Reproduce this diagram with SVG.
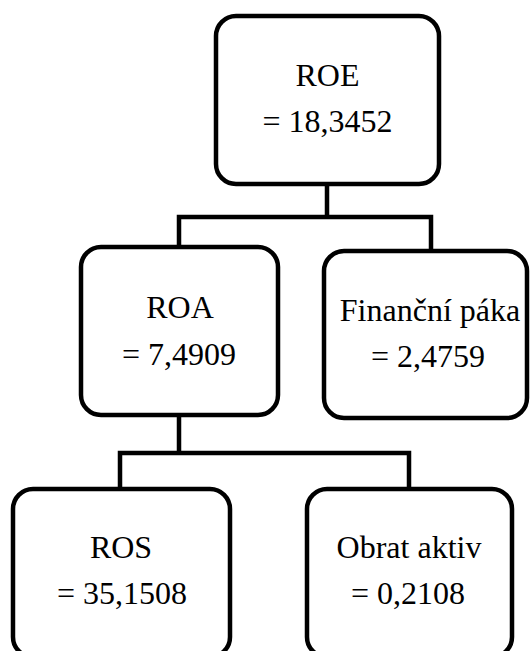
<svg xmlns="http://www.w3.org/2000/svg" width="532" height="651" viewBox="0 0 532 651">
<style>
.box{fill:#fff;stroke:#000;stroke-width:4.5}
.con{fill:none;stroke:#000;stroke-width:4.5;stroke-linejoin:miter;stroke-linecap:square}
text{font-family:"Liberation Serif","Times New Roman",serif;font-size:32px;fill:#000;text-anchor:middle}
</style>
<rect width="532" height="651" fill="#fff"/>
<g id="connectors">
<path class="con" d="M327 184 V217 M179 247 V217 H431 V251"/>
<path class="con" d="M179 415 V453 M120 489 V453 H409 V489"/>
</g>
<g id="roe">
<rect class="box" x="216" y="16" width="223" height="168" rx="20"/>
<text x="327.5" y="86">ROE</text>
<text x="327.5" y="132">= 18,3452</text>
</g>
<g id="roa">
<rect class="box" x="81" y="247" width="197" height="168" rx="20"/>
<text x="180" y="318">ROA</text>
<text x="179" y="365">= 7,4909</text>
</g>
<g id="financni-paka">
<rect class="box" x="324" y="251" width="203" height="167" rx="20"/>
<text x="430" y="321">Finanční páka</text>
<text x="428" y="367">= 2,4759</text>
</g>
<g id="ros">
<rect class="box" x="13" y="489" width="217" height="168" rx="20"/>
<text x="121" y="558">ROS</text>
<text x="122" y="604">= 35,1508</text>
</g>
<g id="obrat-aktiv">
<rect class="box" x="307" y="489" width="205" height="168" rx="20"/>
<text x="409" y="558">Obrat aktiv</text>
<text x="408" y="604">= 0,2108</text>
</g>
</svg>
